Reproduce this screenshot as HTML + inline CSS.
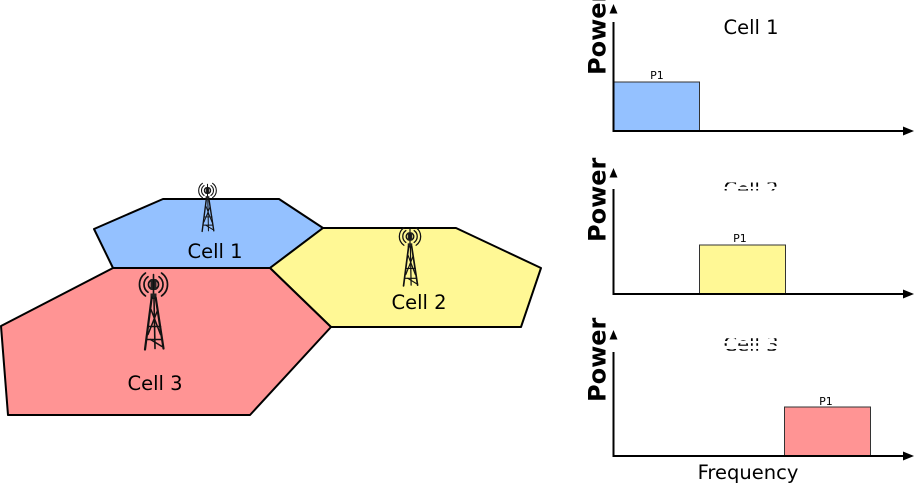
<!DOCTYPE html>
<html>
<head>
<meta charset="utf-8">
<style>
html,body{margin:0;padding:0;background:#fff;}
svg{display:block;}
text{font-family:"DejaVu Sans","Liberation Sans",sans-serif;}
</style>
</head>
<body>
<svg width="917" height="485" viewBox="0 0 917 485" xmlns="http://www.w3.org/2000/svg">
<defs>
  <g id="tw" stroke="#111" fill="none" stroke-linecap="round">
    <path d="M-2.87,-4.1 A5,5 0 0 0 -2.87,4.1 M2.87,-4.1 A5,5 0 0 1 2.87,4.1" stroke-width="1.7"/>
    <path d="M-5.45,-7.78 A9.5,9.5 0 0 0 -5.45,7.78 M5.45,-7.78 A9.5,9.5 0 0 1 5.45,7.78" stroke-width="1.7"/>
    <path d="M-8.04,-11.47 A14,14 0 0 0 -8.04,11.47 M8.04,-11.47 A14,14 0 0 1 8.04,11.47" stroke-width="1.7"/>
    <rect x="-3" y="-5.5" width="6" height="11" fill="#222" stroke="none"/>
    <line x1="0" y1="-10" x2="0" y2="11" stroke-width="1.6"/>
    <rect x="-3" y="9" width="6" height="5.5" fill="#222" stroke="none"/>
    <line x1="-1.8" y1="13" x2="-8.5" y2="65" stroke-width="2.2"/>
    <line x1="2.2" y1="13" x2="10" y2="64" stroke-width="2.2"/>
    <line x1="0.5" y1="14" x2="1.5" y2="64" stroke-width="1.6"/>
    <line x1="-2.5" y1="25" x2="7" y2="50" stroke-width="1.5"/>
    <line x1="4" y1="26" x2="-5.5" y2="50" stroke-width="1.5"/>
    <line x1="-5.2" y1="42" x2="7" y2="42" stroke-width="1.5"/>
    <line x1="-6.8" y1="55" x2="8.2" y2="55" stroke-width="1.5"/>
    <line x1="-3" y1="55" x2="8.5" y2="62" stroke-width="1.5"/>
  </g>
  <clipPath id="c2">
    <rect x="700" y="182.5" width="110" height="4.2"/>
    <rect x="700" y="189" width="110" height="1.5"/>
  </clipPath>
  <clipPath id="c3">
    <rect x="700" y="338.3" width="110" height="2.7"/>
    <rect x="700" y="343.3" width="110" height="2.4"/>
    <rect x="700" y="349" width="110" height="1.7"/>
  </clipPath>
</defs>

<!-- Cells -->
<polygon points="94,229 163,199 279,199 323,228 270,268 113,268" fill="#94c1ff" stroke="#000" stroke-width="2" stroke-linejoin="round"/>
<polygon points="323,228 456,228 541,268 521,327 331,327 270,268" fill="#fff895" stroke="#000" stroke-width="2" stroke-linejoin="round"/>
<polygon points="113,268 270,268 331,327 250,415 8,415 1,326" fill="#ff9494" stroke="#000" stroke-width="2" stroke-linejoin="round"/>

<!-- Towers -->
<use href="#tw" transform="translate(207.5,190.5) scale(0.63)"/>
<use href="#tw" transform="translate(410,236.5) scale(0.76)"/>
<use href="#tw" transform="translate(153.5,284.5)"/>

<!-- Cell labels -->
<text x="215" y="258" font-size="19.5" text-anchor="middle" fill="#000">Cell 1</text>
<text x="419" y="309" font-size="19.5" text-anchor="middle" fill="#000">Cell 2</text>
<text x="155" y="390" font-size="19.5" text-anchor="middle" fill="#000">Cell 3</text>

<!-- Chart 1 -->
<rect x="613.5" y="82" width="86" height="49" fill="#94c1ff" stroke="#333" stroke-width="1"/>
<text x="657" y="79" font-size="11" text-anchor="middle" fill="#000">P1</text>
<line x1="613.5" y1="22" x2="613.5" y2="131" stroke="#000" stroke-width="2"/>
<polygon points="613.5,4 609.5,13.5 617.5,13.5" fill="#000"/>
<line x1="612.5" y1="131" x2="905" y2="131" stroke="#000" stroke-width="2"/>
<polygon points="914,131 903,126.5 903,135.5" fill="#000"/>
<text transform="translate(605.5,75) rotate(-90)" font-size="24" font-weight="bold" fill="#000">Power</text>
<text x="751" y="34" font-size="19.5" text-anchor="middle" fill="#000">Cell 1</text>

<!-- Chart 2 -->
<rect x="699.5" y="245" width="86" height="49" fill="#fff895" stroke="#333" stroke-width="1"/>
<text x="740" y="242" font-size="11" text-anchor="middle" fill="#000">P1</text>
<line x1="613.5" y1="189" x2="613.5" y2="294" stroke="#000" stroke-width="2"/>
<polygon points="613.5,168 609.5,177.5 617.5,177.5" fill="#000"/>
<line x1="612.5" y1="294" x2="905" y2="294" stroke="#000" stroke-width="2"/>
<polygon points="914,294 903,289.5 903,298.5" fill="#000"/>
<text transform="translate(605.5,242) rotate(-90)" font-size="24" font-weight="bold" fill="#000">Power</text>
<text x="751" y="196" font-size="19.5" text-anchor="middle" fill="#000" clip-path="url(#c2)">Cell 2</text>

<!-- Chart 3 -->
<rect x="784.5" y="407" width="86" height="49" fill="#ff9494" stroke="#333" stroke-width="1"/>
<text x="826" y="405" font-size="11" text-anchor="middle" fill="#000">P1</text>
<line x1="613.5" y1="352" x2="613.5" y2="456" stroke="#000" stroke-width="2"/>
<polygon points="613.5,330 609.5,339.5 617.5,339.5" fill="#000"/>
<line x1="612.5" y1="456" x2="905" y2="456" stroke="#000" stroke-width="2"/>
<polygon points="914,456 903,451.5 903,460.5" fill="#000"/>
<text transform="translate(605.5,402) rotate(-90)" font-size="24" font-weight="bold" fill="#000">Power</text>
<text x="751" y="351" font-size="19.5" text-anchor="middle" fill="#000" clip-path="url(#c3)">Cell 3</text>

<text x="748" y="479" font-size="19.5" text-anchor="middle" fill="#000">Frequency</text>
</svg>
</body>
</html>
